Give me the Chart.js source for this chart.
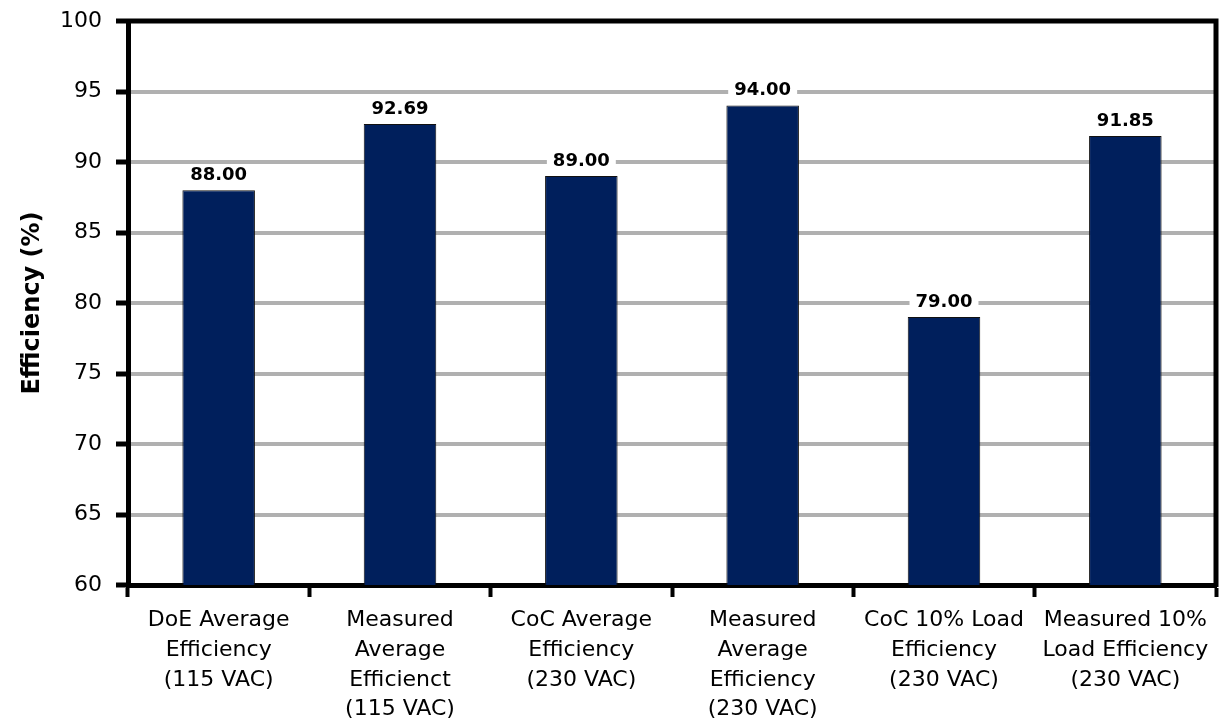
<!DOCTYPE html>
<html>
<head>
<meta charset="utf-8">
<script src="https://cdn.jsdelivr.net/npm/chart.js@4/dist/chart.umd.min.js"></script>
<style>
  html, body { margin: 0; padding: 0; background: #fff; }
  #wrap { width: 1220px; height: 723px; }
</style>
</head>
<body>
<div id="wrap"><canvas id="chart"></canvas></div>
<script>
const categories = [
  ["DoE Average", "Efficiency", "(115 VAC)"],
  ["Measured", "Average", "Efficienct", "(115 VAC)"],
  ["CoC Average", "Efficiency", "(230 VAC)"],
  ["Measured", "Average", "Efficiency", "(230 VAC)"],
  ["CoC 10% Load", "Efficiency", "(230 VAC)"],
  ["Measured 10%", "Load Efficiency", "(230 VAC)"]
];
const efficiency = [88.00, 92.69, 89.00, 94.00, 79.00, 91.85];
const yTicks = [60, 65, 70, 75, 80, 85, 90, 95, 100];

const fontFamily = "Tahoma, 'DejaVu Sans', Verdana, sans-serif";

// labels over bars, white box behind text
const valueLabels = {
  id: 'valueLabels',
  afterDatasetsDraw(chart) {
    const ctx = chart.ctx;
    const meta = chart.getDatasetMeta(0);
    ctx.save();
    ctx.font = "bold 18px " + fontFamily;
    ctx.textAlign = 'center';
    ctx.textBaseline = 'middle';
    meta.data.forEach((bar, i) => {
      const txt = efficiency[i].toFixed(2);
      const w = ctx.measureText(txt).width;
      const y = bar.y - 16;
      ctx.fillStyle = '#fff';
      ctx.fillRect(bar.x - w / 2 - 6, y - 10, w + 12, 20);
      ctx.fillStyle = '#000';
      ctx.fillText(txt, bar.x, y + 1);
    });
    ctx.restore();
  }
};

// black frame on top and right side
const frame = {
  id: 'frame',
  afterDraw(chart) {
    const a = chart.chartArea;
    const ctx = chart.ctx;
    ctx.save();
    ctx.strokeStyle = '#000';
    ctx.lineWidth = 5;
    ctx.beginPath();
    ctx.moveTo(a.left - 2, a.top);
    ctx.lineTo(a.right, a.top);
    ctx.lineTo(a.right, a.bottom + 2);
    ctx.stroke();
    ctx.restore();
  }
};

new Chart(document.getElementById('chart'), {
  type: 'bar',
  data: {
    labels: categories,
    datasets: [{
      data: efficiency,
      backgroundColor: '#001f5c',
      borderColor: '#111111',
      borderWidth: 1,
      barPercentage: 0.4,
      categoryPercentage: 1.0
    }]
  },
  options: {
    responsive: true,
    maintainAspectRatio: false,
    animation: false,
    layout: { padding: { left: 18, top: 21, right: 4, bottom: 0 } },
    plugins: {
      legend: { display: false },
      tooltip: { enabled: false }
    },
    scales: {
      x: {
        grid: {
          offset: true,
          drawOnChartArea: false,
          drawTicks: true,
          tickLength: 12,
          tickColor: '#000',
          tickWidth: 4
        },
        border: { display: true, color: '#000', width: 5 },
        ticks: {
          color: '#000',
          font: { family: fontFamily, size: 22, lineHeight: 1.36 },
          padding: 8,
          maxRotation: 0,
          autoSkip: false
        },
        afterFit(scale) { scale.height = 138; }
      },
      y: {
        min: 60,
        max: 100,
        afterBuildTicks(scale) { scale.ticks = yTicks.map(v => ({ value: v })); },
        grid: {
          color: '#b0b0b0',
          lineWidth: 4,
          drawTicks: true,
          tickLength: 12,
          tickColor: '#000',
          tickWidth: 5
        },
        border: { display: true, color: '#000', width: 5 },
        ticks: {
          color: '#000',
          font: { family: fontFamily, size: 22 },
          padding: 14
        },
        title: {
          display: true,
          text: 'Efficiency (%)',
          color: '#000',
          font: { family: fontFamily, size: 24, weight: 'bold' },
          padding: { top: 0, bottom: 0 }
        },
        afterFit(scale) {
          scale.width = 110;
          scale.paddingTop = 0;
          scale.paddingBottom = 0;
        }
      }
    }
  },
  plugins: [valueLabels, frame]
});
</script>
</body>
</html>
